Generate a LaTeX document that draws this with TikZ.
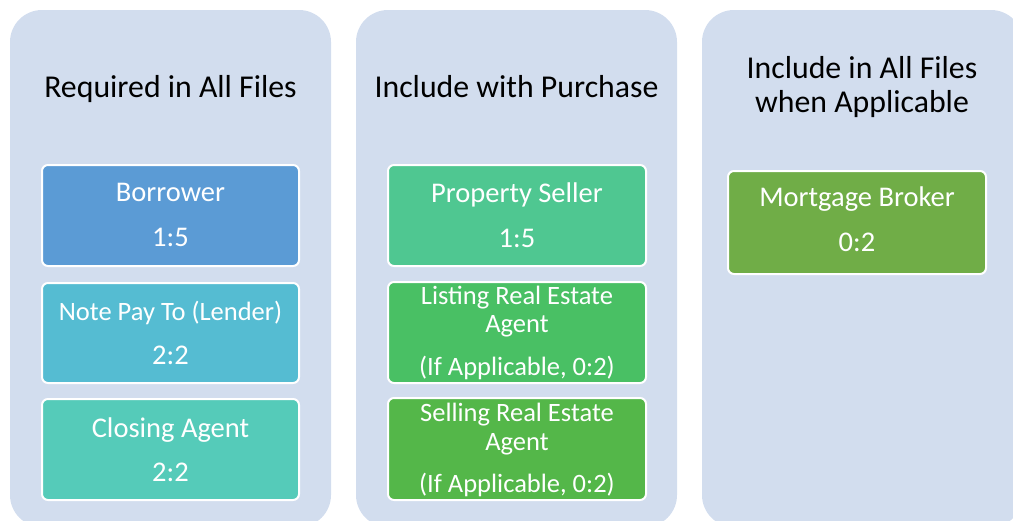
\documentclass[tikz,border=0pt]{standalone}
\usepackage{fontspec}
\setmainfont{Carlito}
\definecolor{panelc}{HTML}{D2DDEE}
\definecolor{cA}{HTML}{5B9BD5}
\definecolor{cB}{HTML}{55BCD2}
\definecolor{cC}{HTML}{55CBB9}
\definecolor{cD}{HTML}{4FC791}
\definecolor{cE}{HTML}{49C064}
\definecolor{cF}{HTML}{54B749}
\definecolor{cG}{HTML}{70AD47}
\begin{document}
\begin{tikzpicture}[x=1pt,y=-1pt,
  panel/.style={fill=panelc, rounded corners=32pt},
  itembox/.style={draw=white, line width=2pt, rounded corners=6pt},
  ttl/.style={anchor=base, inner sep=0pt, font=\fontsize{31.8}{34}\selectfont, text=black},
  big/.style={anchor=base, inner sep=0pt, font=\fontsize{28.5}{34}\selectfont, text=white},
  small/.style={anchor=base, inner sep=0pt, font=\fontsize{26.5}{30}\selectfont, text=white}]
\useasboundingbox (0,0) rectangle (1013,520);
\clip (0,0) rectangle (1013,520);
% panels
\path[panel] (10,10) rectangle (331,527);
\path[panel] (356,10) rectangle (677,527);
\path[panel] (702,10) rectangle (1023,527);
% titles
\node[ttl] (t1) at (170.5,97) {Required in All Files};
\node[ttl] (t2) at (516.5,97) {Include with Purchase};
\node[ttl] (t3a) at (862,78) {Include in All Files};
\node[ttl] (t3b) at (862,112) {when Applicable};
% column 1
\path[itembox, fill=cA] (42,165) rectangle (299,266);
\node[big] (b1) at (170.5,201.7) {Borrower};
\node[big] (b1n) at (170.5,246.7) {1:5};
\path[itembox, fill=cB] (42,283) rectangle (299,383);
\node[small] (b2) at (170.5,320) {Note Pay To (Lender)};
\node[big] (b2n) at (170.5,364.5) {2:2};
\path[itembox, fill=cC] (42,399) rectangle (299,500);
\node[big] (b3) at (170.5,437) {Closing Agent};
\node[big] (b3n) at (170.5,481.5) {2:2};
% column 2
\path[itembox, fill=cD] (388,165) rectangle (646,266);
\node[big] (c1) at (517,202) {Property Seller};
\node[big] (c1n) at (517,247) {1:5};
\path[itembox, fill=cE] (388,282) rectangle (646,383);
\node[small] (c2a) at (517,304) {Listing Real Estate};
\node[small] (c2b) at (517,332.5) {Agent};
\node[small] (c2c) at (517,375) {(If Applicable, 0:2)};
\path[itembox, fill=cF] (388,398) rectangle (646,500);
\node[small] (c3a) at (517,421.5) {Selling Real Estate};
\node[small] (c3b) at (517,450) {Agent};
\node[small] (c3c) at (517,492) {(If Applicable, 0:2)};
% column 3
\path[itembox, fill=cG] (728,171) rectangle (986,274);
\node[big] (d1) at (857,206.7) {Mortgage Broker};
\node[big] (d1n) at (857,251.7) {0:2};
\end{tikzpicture}
\end{document}
